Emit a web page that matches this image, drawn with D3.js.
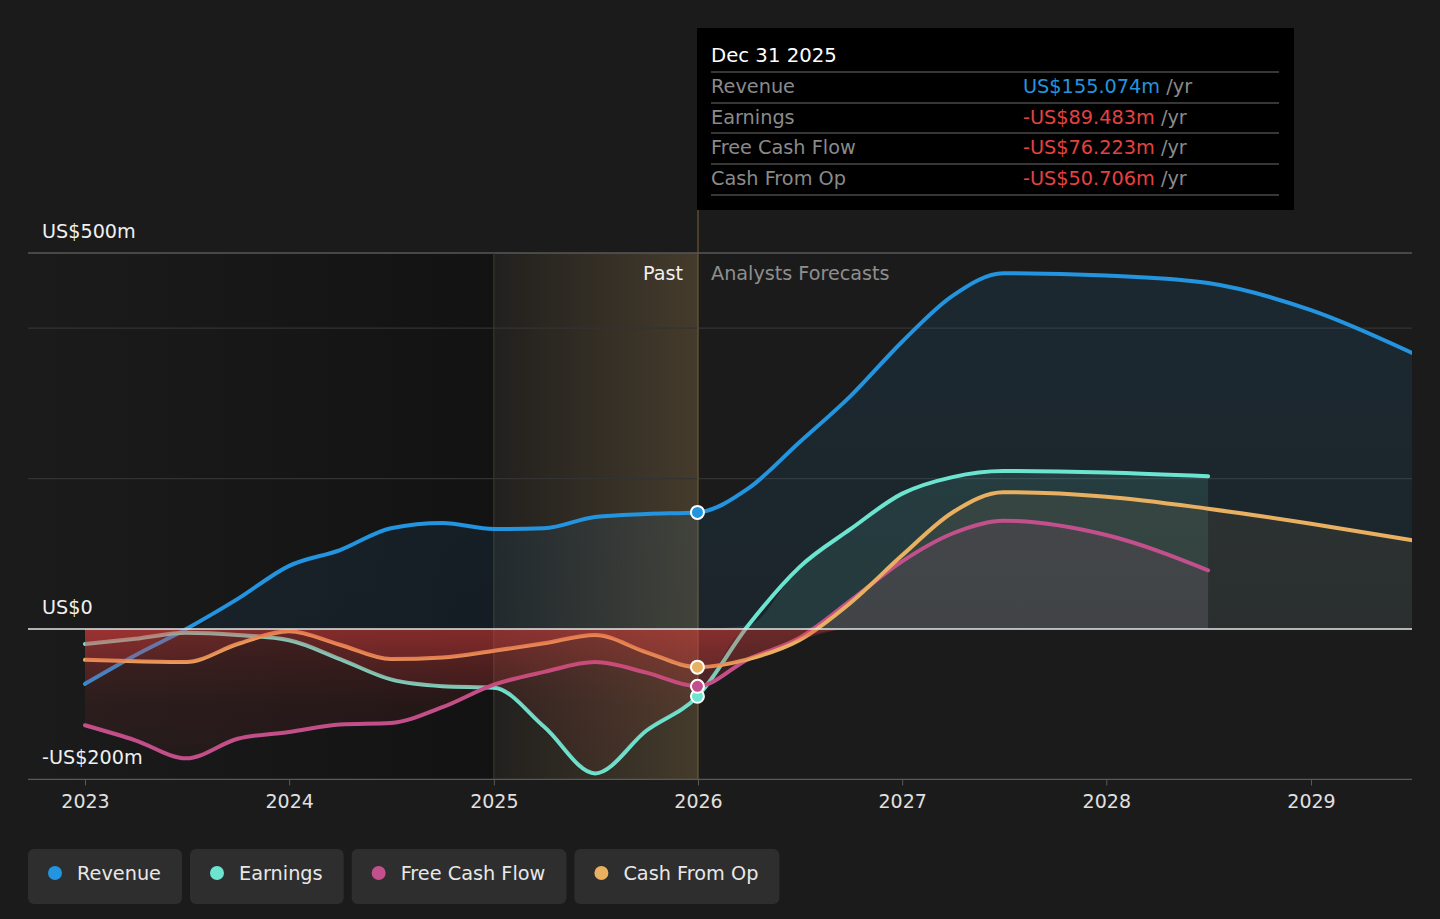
<!DOCTYPE html>
<html>
<head>
<meta charset="utf-8">
<script src="https://cdn.jsdelivr.net/npm/d3@7"></script>
<style>
  html, body { margin: 0; padding: 0; background: #1b1b1b; }
  svg { display: block; font-family: "DejaVu Sans", sans-serif; }
</style>
</head>
<body>
<svg id="chart" width="1440" height="919"></svg>
<script>
// ---------- DATA ----------
const pastDates = ["2023-01-01","2023-04-01","2023-07-01","2023-10-01","2024-01-01","2024-04-01","2024-07-01","2024-10-01","2025-01-01","2025-04-01","2025-07-01","2025-10-01","2025-12-31"];
const forecastDates = ["2026-04-01","2026-07-01","2026-10-01","2027-01-01","2027-04-01","2027-07-01","2028-01-01","2028-07-01","2029-01-01","2029-07-01"];

const revenuePast = [-73, -35, 0, 40, 84, 105, 134, 141, 133, 134, 149, 153, 155.074];
const revenueForecast = [187, 248, 310, 382, 443, 473, 470, 460, 424, 367];

const earningsPast = [-20, -13, -5, -8, -15, -40, -67, -76, -78, -130, -192, -135, -89.483];
const earningsForecast = [5, 82, 133, 180, 202, 210, 208, 203];

const fcfPast = [-128, -148, -172, -146, -137, -127, -125, -104, -74, -57, -44, -58, -76.223];
const fcfForecast = [-40, -12, 38, 90, 127, 144, 125, 78];

const cfoPast = [-41, -43, -44, -20, -3, -21, -40, -38, -29, -19, -8, -31, -50.706];
const cfoForecast = [-40, -15, 35, 98, 155, 182, 176, 160, 140, 118];

const seriesNames = ["Revenue", "Earnings", "Free Cash Flow", "Cash From Op"];
const seriesColors = ["#2394df", "#6ce5d0", "#c2508c", "#e8b060"];
const yearTicks = ["2023","2024","2025","2026","2027","2028","2029"];
const yLabelValues = [500, 0, -200];
const yLabelTexts = ["US$500m", "US$0", "-US$200m"];
const gridValues = [400, 200];

const tooltipTitle = "Dec 31 2025";
const tooltipValues = ["US$155.074m", "-US$89.483m", "-US$76.223m", "-US$50.706m"];

// ---------- SETUP ----------
const svg = d3.select("#chart");
const parse = d3.timeParse("%Y-%m-%d");
const W = 1440;
const left = 28, right = 1412;

const x = d3.scaleTime().domain([parse("2023-01-01"), parse("2026-01-01")]).range([85, 698]);
const y = d3.scaleLinear().domain([-200, 500]).range([779.4, 253]);

function build(past, fc) {
  const dates = pastDates.concat(forecastDates).slice(0, past.length + fc.length);
  const vals = past.concat(fc);
  return dates.map((d, i) => ({ date: parse(d), v: vals[i] }));
}
const data = [
  build(revenuePast, revenueForecast),
  build(earningsPast, earningsForecast),
  build(fcfPast, fcfForecast),
  build(cfoPast, cfoForecast)
];

const defs = svg.append("defs");
defs.append("clipPath").attr("id", "plotClip")
  .append("rect").attr("x", left).attr("y", 200).attr("width", right - left).attr("height", 580);

// background
svg.append("rect").attr("width", W).attr("height", 919).attr("fill", "#1b1b1b");

// past darker region gradient
const gPast = defs.append("linearGradient").attr("id", "pastGrad")
  .attr("gradientUnits", "userSpaceOnUse").attr("x1", left).attr("x2", x(parse("2025-01-01"))).attr("y1", 0).attr("y2", 0);
gPast.append("stop").attr("offset", 0).attr("stop-color", "#000").attr("stop-opacity", 0.0);
gPast.append("stop").attr("offset", 1).attr("stop-color", "#000").attr("stop-opacity", 0.32);
svg.append("rect").attr("x", left).attr("y", y(500)).attr("width", x(parse("2025-01-01")) - left)
  .attr("height", y(-200) - y(500)).attr("fill", "url(#pastGrad)");

// highlighted band 2025-2026
const gBand = defs.append("linearGradient").attr("id", "bandGrad")
  .attr("gradientUnits", "userSpaceOnUse").attr("x1", x(parse("2025-01-01"))).attr("x2", x(parse("2026-01-01"))).attr("y1", 0).attr("y2", 0);
gBand.append("stop").attr("offset", 0).attr("stop-color", "#c8a060").attr("stop-opacity", 0.04);
gBand.append("stop").attr("offset", 1).attr("stop-color", "#c8a060").attr("stop-opacity", 0.24);
svg.append("rect").attr("x", x(parse("2025-01-01"))).attr("y", y(500))
  .attr("width", x(parse("2026-01-01")) - x(parse("2025-01-01")))
  .attr("height", y(-200) - y(500)).attr("fill", "url(#bandGrad)");

// grid lines
gridValues.forEach(v => {
  svg.append("line").attr("x1", left).attr("x2", right).attr("y1", y(v)).attr("y2", y(v))
    .attr("stroke", "#333").attr("stroke-width", 1.2);
});
svg.append("line").attr("x1", left).attr("x2", right).attr("y1", y(500)).attr("y2", y(500))
  .attr("stroke", "#585858").attr("stroke-width", 1.3);

// vertical separators
svg.append("line").attr("x1", x(parse("2025-01-01"))).attr("x2", x(parse("2025-01-01")))
  .attr("y1", y(500)).attr("y2", y(-200)).attr("stroke", "#3a362e").attr("stroke-width", 1.2);
svg.append("line").attr("x1", x(parse("2026-01-01"))).attr("x2", x(parse("2026-01-01")))
  .attr("y1", 210).attr("y2", y(-200)).attr("stroke", "#6a5a38").attr("stroke-width", 1.2);

const plot = svg.append("g").attr("clip-path", "url(#plotClip)");
const curve = d3.curveMonotoneX;

// positive areas (vertical gradient per series)
const posTop = [0.11, 0.12, 0.12, 0.11];
const posBot = [0.08, 0.11, 0.10, 0.07];
seriesColors.forEach((c, i) => {
  const g = defs.append("linearGradient").attr("id", "pos" + i)
    .attr("gradientUnits", "userSpaceOnUse").attr("x1", 0).attr("x2", 0).attr("y1", y(500)).attr("y2", y(0));
  g.append("stop").attr("offset", 0).attr("stop-color", c).attr("stop-opacity", posTop[i]);
  g.append("stop").attr("offset", 1).attr("stop-color", c).attr("stop-opacity", posBot[i]);
});
const posArea = d3.area().curve(curve).x(d => x(d.date)).y0(y(0)).y1(d => y(Math.max(0, d.v)));
[0, 1, 3, 2].forEach(i => {
  plot.append("path").datum(data[i]).attr("d", posArea).attr("fill", `url(#pos${i})`);
});

// lines
const line = d3.line().curve(curve).x(d => x(d.date)).y(d => y(d.v));
[0, 1, 2, 3].forEach(i => {
  plot.append("path").datum(data[i]).attr("d", line)
    .attr("fill", "none").attr("stroke", seriesColors[i]).attr("stroke-width", 4)
    .attr("stroke-linecap", "round").attr("stroke-linejoin", "round");
});

// negative areas (red gradient, overlaid)
const gNeg = defs.append("linearGradient").attr("id", "negGrad")
  .attr("gradientUnits", "userSpaceOnUse").attr("x1", 0).attr("x2", 0).attr("y1", y(0)).attr("y2", y(-200));
gNeg.append("stop").attr("offset", 0).attr("stop-color", "#e5403f").attr("stop-opacity", 0.22);
gNeg.append("stop").attr("offset", 0.5).attr("stop-color", "#d03838").attr("stop-opacity", 0.1);
gNeg.append("stop").attr("offset", 1).attr("stop-color", "#c03030").attr("stop-opacity", 0.06);
const negArea = d3.area().curve(curve).x(d => x(d.date)).y0(y(0)).y1(d => y(Math.min(0, d.v)));
[0, 1, 2, 3].forEach(i => {
  plot.append("path").datum(data[i]).attr("d", negArea).attr("fill", "url(#negGrad)");
});

// zero line
svg.append("line").attr("x1", left).attr("x2", right).attr("y1", y(0)).attr("y2", y(0))
  .attr("stroke", "#e6e6e6").attr("stroke-width", 1.6);
// bottom axis line
svg.append("line").attr("x1", left).attr("x2", right).attr("y1", y(-200)).attr("y2", y(-200))
  .attr("stroke", "#5a5a5a").attr("stroke-width", 1.3);

// x axis ticks & labels
const xAxis = d3.axisBottom(x)
  .tickValues(yearTicks.map(t => parse(t + "-01-01")))
  .tickFormat(d3.timeFormat("%Y")).tickSize(6).tickPadding(9);
const gx = svg.append("g").attr("transform", `translate(0,${y(-200)})`).call(xAxis);
gx.select(".domain").remove();
gx.selectAll(".tick line").attr("stroke", "#5a5a5a");
gx.selectAll(".tick text").attr("fill", "#e0e0e0").attr("font-size", 19)
  .attr("font-family", "DejaVu Sans, sans-serif");

// y labels
yLabelValues.forEach((v, i) => {
  svg.append("text").attr("x", 42).attr("y", y(v) - 15).attr("fill", "#f0f0f0")
    .attr("font-size", 19.2).text(yLabelTexts[i]);
});

// Past / Forecast labels
svg.append("text").attr("x", 683).attr("y", 280).attr("text-anchor", "end")
  .attr("fill", "#f0f0f0").attr("font-size", 19.2).text("Past");
svg.append("text").attr("x", 711).attr("y", 280)
  .attr("fill", "#8e8e8e").attr("font-size", 19.2).text("Analysts Forecasts");

// markers at Dec 31 2025
const markerOrder = [1, 2, 3, 0];
markerOrder.forEach(i => {
  const last = data[i][pastDates.length - 1];
  svg.append("circle").attr("cx", x(last.date)).attr("cy", y(last.v)).attr("r", 6.5)
    .attr("fill", seriesColors[i]).attr("stroke", "#fff").attr("stroke-width", 2);
});

// tooltip
const tt = svg.append("g");
tt.append("rect").attr("x", 697).attr("y", 28).attr("width", 597).attr("height", 182).attr("fill", "#000");
tt.append("text").attr("x", 711).attr("y", 62).attr("fill", "#fff").attr("font-size", 19.7).text(tooltipTitle);
const rowLines = [72, 103, 133, 164, 195];
rowLines.forEach(ly => {
  tt.append("line").attr("x1", 711).attr("x2", 1279).attr("y1", ly).attr("y2", ly)
    .attr("stroke", "#4a4a4a").attr("stroke-width", 1.5);
});
seriesNames.forEach((n, i) => {
  const by = 93 + i * 30.5;
  tt.append("text").attr("x", 711).attr("y", by).attr("fill", "#8a8a8a").attr("font-size", 19.3).text(n);
  const t = tt.append("text").attr("x", 1023).attr("y", by).attr("font-size", 19.3);
  t.append("tspan").attr("fill", i === 0 ? seriesColors[0] : "#e5413f").text(tooltipValues[i]);
  t.append("tspan").attr("fill", "#8a8a8a").text(" /yr");
});

// legend
const legend = svg.append("g");
let lx = 28;
seriesNames.forEach((n, i) => {
  const g = legend.append("g");
  const txt = g.append("text").attr("x", lx + 49).attr("y", 880).attr("fill", "#e8e8e8")
    .attr("font-size", 19.3).text(n);
  const w = txt.node().getComputedTextLength() + 49 + 21;
  g.insert("rect", "text").attr("x", lx).attr("y", 849).attr("width", w).attr("height", 55)
    .attr("rx", 6).attr("fill", "#2e2e2e");
  g.append("circle").attr("cx", lx + 27).attr("cy", 873).attr("r", 7).attr("fill", seriesColors[i]);
  lx += w + 8;
});
</script>
</body>
</html>
